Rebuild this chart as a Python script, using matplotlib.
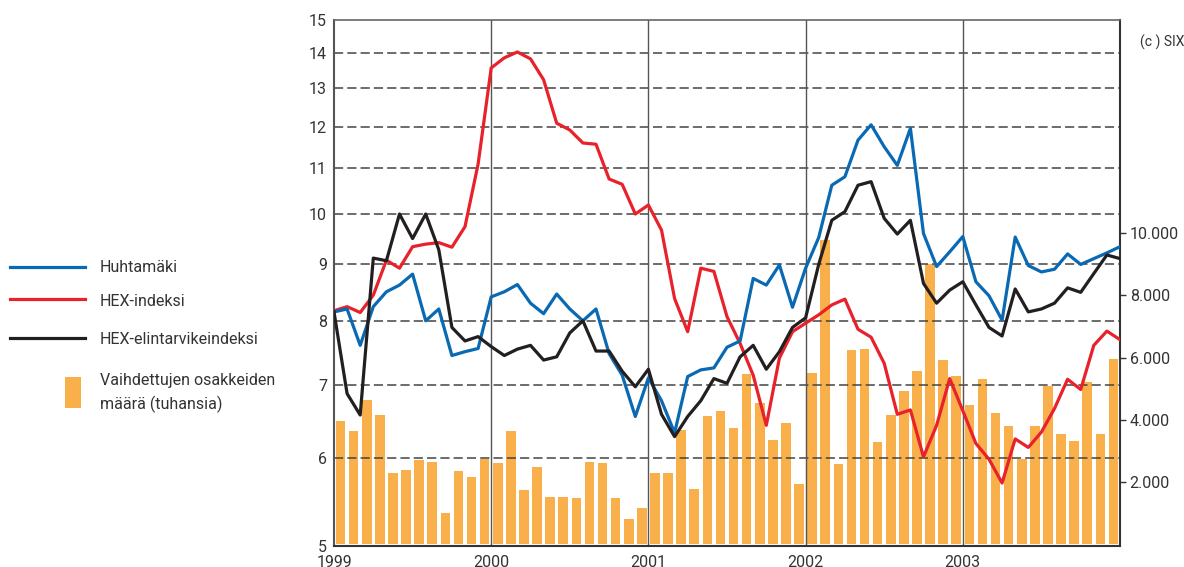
import numpy as np
import matplotlib
matplotlib.use('Agg')
import matplotlib.pyplot as plt
from matplotlib.lines import Line2D
from matplotlib.patches import Rectangle
from matplotlib.ticker import FixedLocator, NullLocator, FuncFormatter

plt.rcParams['font.family'] = ['Roboto', 'DejaVu Sans']

# monthly values, Jan 1999 .. Jan 2004
huhtamaki = [8.15, 8.2, 7.6, 8.24, 8.5, 8.62, 8.82, 8.0, 8.2, 7.44, 7.5, 7.55,
             8.41, 8.5, 8.63, 8.3, 8.12, 8.46, 8.2, 8.0, 8.2, 7.47, 7.14, 6.55,
             7.1, 6.77, 6.33, 7.12, 7.22, 7.25, 7.57, 7.67, 8.74, 8.62, 8.99, 8.23,
             8.93, 9.52, 10.62, 10.81, 11.67, 12.05, 11.51, 11.07, 11.96, 9.6, 8.96, 9.24,
             9.54, 8.68, 8.43, 8.01, 9.53, 8.98, 8.86, 8.91, 9.2, 9.0, 9.11, 9.22, 9.34]
hex_indeksi = [8.17, 8.24, 8.14, 8.44, 9.08, 8.93, 9.34, 9.39, 9.42, 9.33, 9.74, 11.1,
               13.57, 13.86, 14.03, 13.83, 13.24, 12.09, 11.92, 11.6, 11.57, 10.76, 10.64, 10.0,
               10.19, 9.67, 8.38, 7.82, 8.93, 8.87, 8.07, 7.63, 7.14, 6.43, 7.4, 7.82,
               7.96, 8.1, 8.27, 8.37, 7.86, 7.73, 7.32, 6.58, 6.64, 6.02, 6.43, 7.09,
               6.63, 6.19, 5.99, 5.70, 6.25, 6.14, 6.34, 6.66, 7.08, 6.93, 7.6, 7.83, 7.69]
hex_elintarvike = [8.15, 6.87, 6.57, 9.12, 9.07, 10.0, 9.5, 10.0, 9.28, 7.89, 7.67, 7.74,
                   7.58, 7.44, 7.54, 7.6, 7.37, 7.42, 7.8, 8.0, 7.51, 7.51, 7.2, 6.97,
                   7.23, 6.58, 6.28, 6.55, 6.77, 7.09, 7.02, 7.42, 7.6, 7.23, 7.5, 7.89,
                   8.05, 9.0, 9.87, 10.05, 10.62, 10.7, 9.91, 9.59, 9.87, 8.65, 8.3, 8.53,
                   8.68, 8.27, 7.89, 7.75, 8.55, 8.15, 8.2, 8.3, 8.57, 8.49, 8.83, 9.18, 9.11]
# traded shares per month
vaihto = [3960, 3640, 4640, 4150, 2300, 2400, 2720, 2650, 1020, 2370, 2180, 2750,
          2620, 3650, 1760, 2500, 1540, 1540, 1500, 2660, 2620, 1500, 830, 1180,
          2300, 2300, 3670, 1790, 4120, 4290, 3740, 5470, 4540, 3360, 3900, 1930,
          5500, 9770, 2590, 6240, 6270, 3300, 4160, 4930, 5570, 9000, 5930, 5400,
          4490, 5300, 4220, 3790, 2750, 3790, 5100, 3560, 3330, 5220, 3560, 5970]

years = [1999, 2000, 2001, 2002, 2003]
left_ticks = [5, 6, 7, 8, 9, 10, 11, 12, 13, 14, 15]
right_ticks = [2000, 4000, 6000, 8000, 10000]

blue = '#0a69b3'
red = '#e8212a'
black = '#231f20'
orange = '#f9b04b'
txt = '#333333'
fs = 11.5

line_x = 1999 + np.arange(len(huhtamaki)) / 12.0
bar_x = 1999 + (np.arange(len(vaihto)) + 0.5) / 12.0

W, H = 1184, 567
fig = plt.figure(figsize=(W / 100, H / 100), dpi=100)
ax = fig.add_axes([334 / W, 1 - 545.7 / H, (1120 - 334) / W, (545.7 - 20) / H])
ax2 = ax.twinx()
ax.set_zorder(ax2.get_zorder() + 1)
ax.patch.set_visible(False)

# bars on the right (linear) axis
ax2.bar(bar_x, vaihto, width=0.061, color=orange, linewidth=0)
ax2.set_ylim(-40, 16850)
ax2.yaxis.set_major_locator(FixedLocator(right_ticks))
ax2.yaxis.set_major_formatter(FuncFormatter(lambda v, p: f'{int(v):,}'.replace(',', '.')))
ax2.tick_params(axis='y', length=4, width=1, color=txt, pad=3, labelsize=fs, labelcolor=txt)
for s in ax2.spines.values():
    s.set_visible(False)

# lines on the left (log) axis
ax.set_yscale('log')
ax.set_ylim(5, 15)
ax.set_xlim(1999, 2004)
ax.yaxis.set_major_locator(FixedLocator(left_ticks))
ax.yaxis.set_minor_locator(NullLocator())
ax.yaxis.set_major_formatter(FuncFormatter(lambda v, p: f'{int(round(v))}'))
ax.set_xticks(years)
ax.set_xticklabels([str(y) for y in years])
ax.tick_params(axis='y', length=0, pad=5, labelsize=fs, labelcolor=txt)
ax.tick_params(axis='x', length=0, pad=7, labelsize=fs, labelcolor=txt)

for v in left_ticks[1:-1]:
    ax.axhline(v, color='#444444', lw=1.1, ls=(0, (6, 2.7)), zorder=1)
for y in years[1:]:
    ax.axvline(y, color='#555555', lw=1.0, zorder=1)

ax.plot(line_x, hex_indeksi, color=red, lw=2.3, zorder=3)
ax.plot(line_x, huhtamaki, color=blue, lw=2.3, zorder=3)
ax.plot(line_x, hex_elintarvike, color=black, lw=2.3, zorder=3)

ax.spines['left'].set_color('#555555')
ax.spines['left'].set_linewidth(1.5)
ax.spines['top'].set_color('#666666')
ax.spines['top'].set_linewidth(1.2)
ax.spines['right'].set_color(txt)
ax.spines['right'].set_linewidth(1.5)
ax.spines['bottom'].set_color(txt)
ax.spines['bottom'].set_linewidth(1.5)

fig.text(1140 / W, 1 - 42 / H, '(c ) SIX', fontsize=10, color=txt, va='center')

# legend on the left
def fx(px):
    return px / W

def fy(py):
    return 1 - py / H

legend_items = [('Huhtamäki', blue, 267, 268),
                ('HEX-indeksi', red, 299, 301),
                ('HEX-elintarvikeindeksi', black, 338, 340)]
for label, col, ly, ty in legend_items:
    fig.add_artist(Line2D([fx(10), fx(85)], [fy(ly), fy(ly)], color=col, lw=2.3))
    fig.text(fx(100), fy(ty), label, fontsize=fs, color=txt, va='center')

fig.add_artist(Rectangle((fx(65), fy(408)), fx(16), (408 - 377) / H, color=orange, lw=0))
fig.text(fx(100), fy(381), 'Vaihdettujen osakkeiden', fontsize=fs, color=txt, va='center')
fig.text(fx(100), fy(404), 'määrä (tuhansia)', fontsize=fs, color=txt, va='center')

fig.savefig('out.png', dpi=100)
